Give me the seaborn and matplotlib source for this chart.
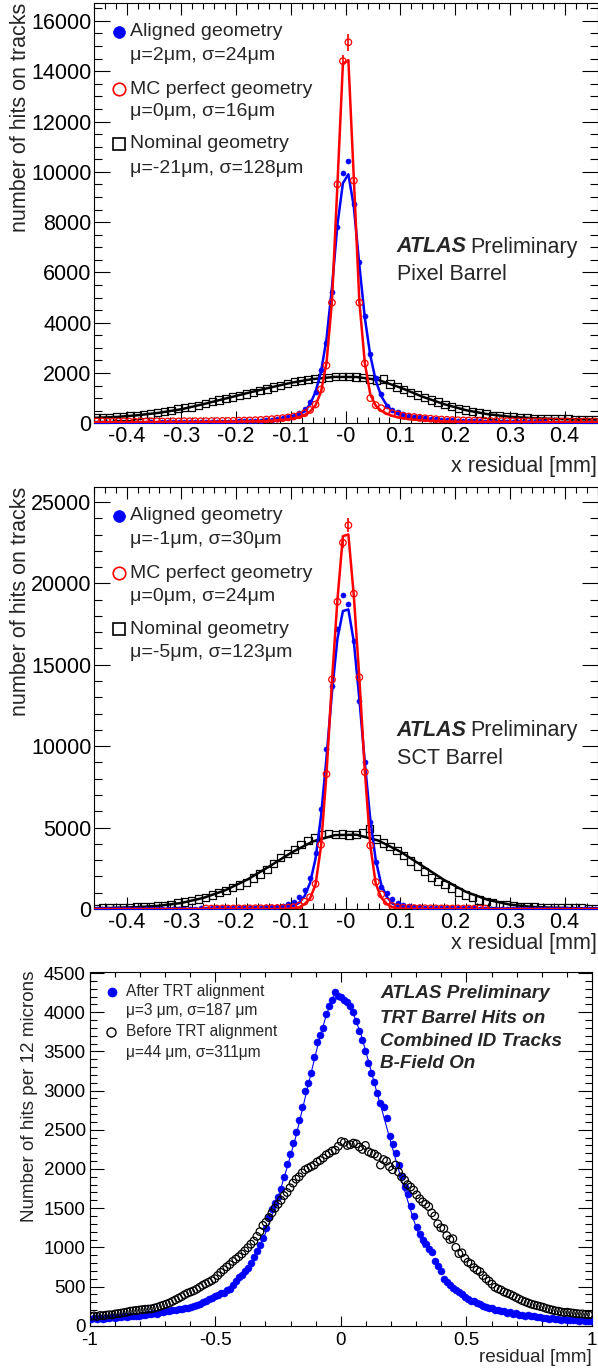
import numpy as np
import pandas as pd
import matplotlib
matplotlib.use("Agg")
import matplotlib.pyplot as plt
from matplotlib.lines import Line2D
from matplotlib.ticker import FixedLocator, FixedFormatter, MultipleLocator
import seaborn as sns

# ======================= DATA =======================
# ---- Pixel barrel (bins of 10 um for aligned / MC, 12.5 um for nominal) ----
pix_bin_x = np.round(np.arange(-0.455, 0.456, 0.01), 4)          # 92 bin centres
pix_nom_x = np.round(np.arange(-0.45625, 0.457, 0.0125), 5)      # 74 bin centres

pix_aligned = [30, 25, 30, 25, 30, 28, 30, 25, 30, 30,
               32, 30, 35, 32, 35, 38, 40, 38, 42, 45,
               48, 50, 55, 58, 62, 66, 72, 80, 88, 98,
               110, 125, 145, 170, 200, 240, 300, 420, 560, 860,
               1240, 2110, 3200, 5240, 7810, 9970, 10430, 8710, 6430, 4280,
               2770, 1810, 1150, 700, 540, 440, 370, 310, 270, 240,
               210, 185, 165, 145, 130, 118, 105, 95, 88, 80,
               72, 66, 60, 55, 52, 48, 45, 42, 40, 38,
               36, 34, 32, 30, 30, 28, 28, 26, 26, 25,
               25, 24]
pix_mc = [70, 75, 65, 70, 70, 75, 70, 65, 75, 70,
          75, 80, 75, 70, 80, 75, 85, 80, 85, 80,
          85, 90, 90, 95, 95, 100, 105, 110, 115, 125,
          135, 150, 165, 185, 205, 235, 270, 320, 400, 530,
          750, 1350, 2300, 4800, 9500, 14400, 15150, 9650, 4800, 2380,
          1000, 720, 600, 480, 400, 350, 300, 270, 250, 220,
          200, 185, 165, 150, 140, 130, 120, 115, 110, 105,
          100, 95, 90, 90, 85, 85, 80, 80, 75, 75,
          75, 70, 75, 70, 70, 65, 70, 65, 65, 70,
          65, 70]
pix_nominal = [220, 235, 240, 260, 265, 295, 315, 350, 375, 425,
               460, 520, 580, 620, 650, 720, 790, 860, 920, 990,
               1040, 1100, 1160, 1230, 1300, 1370, 1440, 1510, 1590, 1650,
               1700, 1740, 1770, 1800, 1830, 1850, 1860, 1870, 1840, 1810,
               1760, 1700, 1760, 1560, 1450, 1340, 1220, 1120, 1020, 930,
               840, 760, 680, 600, 530, 470, 410, 370, 320, 290,
               270, 250, 230, 215, 200, 190, 180, 175, 170, 165,
               160, 158, 155, 150]
pix_err_x = [-0.005, 0.005]
pix_err_y = [14400, 15150]
pix_err = [230, 330]

# fitted curves
fit_x = [-0.46, -0.4, -0.3, -0.25, -0.2, -0.17, -0.15, -0.13, -0.115, -0.105,
         -0.095, -0.085, -0.075, -0.065, -0.055, -0.045, -0.035, -0.025, -0.015, -0.005,
         0.005, 0.015, 0.025, 0.035, 0.045, 0.055, 0.065, 0.075, 0.085, 0.095,
         0.105, 0.115, 0.13, 0.15, 0.17, 0.2, 0.25, 0.3, 0.4, 0.46]
pix_fit_aligned = [20, 25, 35, 45, 60, 75, 90, 120, 150, 185,
                   240, 330, 480, 760, 1250, 2050, 3350, 5400, 7900, 9550,
                   9900, 8600, 6300, 4200, 2700, 1700, 1080, 720, 500, 370,
                   290, 235, 180, 135, 105, 80, 55, 40, 28, 22]
pix_fit_mc = [40, 45, 50, 55, 65, 75, 85, 110, 135, 160,
              195, 250, 330, 470, 720, 1250, 2400, 4850, 9500, 14300,
              14440, 9700, 4850, 2400, 1150, 700, 500, 380, 300, 240,
              200, 170, 135, 105, 85, 65, 55, 50, 45, 42]
nom_fit_x = [-0.46, -0.42, -0.38, -0.34, -0.30, -0.26, -0.22, -0.18, -0.14, -0.10, -0.06, -0.02,
             0.02, 0.06, 0.10, 0.14, 0.18, 0.22, 0.26, 0.30, 0.34, 0.38, 0.42, 0.46]
pix_fit_nominal = [215, 250, 320, 420, 560, 760, 980, 1200, 1410, 1610, 1760, 1845,
                   1840, 1720, 1420, 1060, 760, 520, 360, 260, 205, 175, 160, 150]

# ---- SCT barrel ----
sct_mc_x = np.round(np.arange(-0.255, 0.256, 0.01), 4)           # 52 bin centres
sct_aligned = [20, 15, 20, 15, 20, 18, 20, 15, 20, 22,
               20, 22, 25, 22, 25, 28, 25, 30, 28, 32,
               30, 35, 38, 40, 42, 48, 52, 58, 65, 75,
               85, 100, 120, 150, 200, 280, 400, 760, 1170, 1930,
               3470, 6140, 9830, 13680, 17170, 19260, 18710, 16490, 12760, 9000,
               5370, 2910, 1340, 990, 620, 380, 260, 190, 140, 110,
               90, 75, 65, 55, 50, 45, 40, 38, 35, 32,
               30, 28, 26, 25, 24, 22, 22, 20, 20, 20,
               18, 18, 17, 17, 16, 16, 15, 15, 15, 15,
               15, 15]
sct_mc = [30, 25, 30, 35, 30, 35, 40, 35, 40, 45,
          45, 50, 55, 60, 70, 85, 110, 200, 450, 720,
          1540, 3940, 8290, 14090, 18870, 22500, 23570, 19370, 14230, 8410,
          3900, 1660, 900, 450, 180, 100, 75, 60, 55, 50,
          45, 40, 40, 35, 35, 30, 35, 30, 30, 25,
          30, 25]
sct_nominal = [40, 55, 65, 80, 95, 105, 115, 140, 165, 195,
               230, 290, 370, 440, 540, 620, 720, 860, 1000, 1150,
               1320, 1480, 1640, 1900, 2150, 2420, 2800, 3150, 3400, 3650,
               3950, 4200, 4400, 4580, 4620, 4570, 4600, 4550, 4580, 4700,
               4930, 4300, 4050, 3850, 3600, 3300, 2950, 2650, 2300, 1950,
               1700, 1500, 1280, 1050, 850, 690, 560, 450, 360, 290,
               240, 200, 170, 140, 120, 105, 95, 85, 75, 65,
               60, 55, 50, 45]
sct_err_x = [-0.005, 0.005]
sct_err_y = [22500, 23570]
sct_err = [300, 420]
sct_fit_aligned = [0, 0, 0, 0, 2, 5, 10, 25, 55, 100,
                   190, 380, 800, 1600, 3100, 5700, 9300, 13300, 16600, 18300,
                   18400, 16400, 12900, 9000, 5500, 3000, 1500, 750, 350, 170,
                   90, 45, 20, 8, 4, 2, 0, 0, 0, 0]
sct_fit_mc = [0, 0, 0, 0, 0, 0, 0, 2, 5, 12,
              35, 100, 300, 650, 1500, 3850, 8300, 14000, 19000, 22900,
              23000, 19200, 14200, 8500, 3900, 1550, 700, 320, 120, 40,
              12, 5, 2, 0, 0, 0, 0, 0, 0, 0]
sct_fit_nominal = [40, 70, 115, 200, 370, 680, 1150, 1800, 2600, 3450, 4150, 4540,
                   4560, 4200, 3520, 2650, 1780, 1050, 560, 270, 130, 75, 50, 40]

# ---- TRT barrel (12 micron bins) ----
trt_x = np.round(np.arange(-0.994, 1.0, 0.012), 4)               # 167 bin centres
trt_after = [86, 95, 82, 98, 90, 104, 96, 110, 100, 106,
             111, 118, 112, 124, 120, 130, 126, 138, 134, 145,
             148, 158, 155, 172, 170, 186, 182, 198, 196, 212,
             210, 226, 224, 240, 248, 268, 276, 305, 312, 340,
             348, 380, 390, 415, 420, 450, 465, 525, 570, 620,
             645, 695, 735, 795, 875, 955, 1025, 1125, 1245, 1385,
             1495, 1565, 1645, 1745, 1895, 2065, 2195, 2335, 2475, 2625,
             2795, 2995, 3095, 3225, 3425, 3625, 3715, 3805, 3975, 4085,
             4155, 4255, 4205, 4195, 4155, 4125, 4085, 4005, 3885, 3765,
             3645, 3505, 3355, 3225, 3105, 2965, 2845, 2785, 2655, 2425,
             2325, 2205, 2055, 1905, 1775, 1685, 1525, 1405, 1255, 1175,
             1095, 1045, 985, 945, 825, 765, 695, 595, 555, 520,
             475, 460, 425, 400, 360, 345, 315, 310, 285, 275,
             250, 245, 220, 220, 200, 200, 184, 186, 168, 170,
             154, 156, 140, 142, 128, 131, 118, 120, 106, 110,
             98, 102, 90, 94, 83, 88, 77, 82, 72, 76,
             68, 72, 64, 69, 62, 66, 60]
trt_before = [120, 125, 118, 130, 128, 135, 140, 138, 150, 155,
              160, 168, 175, 185, 190, 195, 200, 205, 210, 212,
              215, 225, 235, 250, 262, 275, 290, 310, 330, 350,
              370, 395, 415, 430, 445, 465, 490, 515, 535, 555,
              575, 600, 640, 680, 715, 750, 780, 820, 850, 880,
              915, 955, 995, 1040, 1080, 1140, 1200, 1280, 1320, 1380,
              1440, 1500, 1550, 1600, 1660, 1700, 1760, 1820, 1870, 1900,
              1950, 1990, 2010, 2030, 2050, 2090, 2110, 2140, 2180, 2200,
              2230, 2240, 2290, 2350, 2340, 2300, 2310, 2330, 2320, 2280,
              2250, 2300, 2220, 2200, 2190, 2160, 2050, 2120, 2100, 2030,
              1990, 2050, 1960, 1900, 1860, 1800, 1770, 1730, 1670, 1620,
              1580, 1550, 1520, 1440, 1400, 1300, 1250, 1240, 1150, 1100,
              1110, 1000, 920, 930, 860, 810, 790, 740, 710, 690,
              640, 600, 570, 530, 490, 470, 455, 430, 415, 400,
              380, 360, 340, 320, 305, 290, 275, 265, 255, 245,
              235, 220, 210, 200, 190, 185, 175, 170, 172, 165,
              160, 155, 150, 150, 145, 140, 142]
trt_fit_x = [-0.33, -0.30, -0.27, -0.24, -0.21, -0.18, -0.15, -0.12, -0.09, -0.06, -0.04, -0.02,
             0.0, 0.02, 0.05, 0.08, 0.11, 0.14, 0.17, 0.20, 0.23, 0.26, 0.29, 0.32, 0.33]
trt_fit_y = [960, 1180, 1450, 1740, 2060, 2400, 2800, 3200, 3600, 3940, 4120, 4280,
             4180, 4130, 3980, 3720, 3380, 3020, 2680, 2330, 1990, 1660, 1350, 1080, 1000]

# tick labels
hist_xticks = [-0.4, -0.3, -0.2, -0.1, 0.0, 0.1, 0.2, 0.3, 0.4]
hist_xticklabels = ["-0.4", "-0.3", "-0.2", "-0.1", "-0", "0.1", "0.2", "0.3", "0.4"]
pix_yticks = [0, 2000, 4000, 6000, 8000, 10000, 12000, 14000, 16000]
sct_yticks = [0, 5000, 10000, 15000, 20000, 25000]
trt_xticks = [-1, -0.5, 0, 0.5, 1]
trt_xticklabels = ["-1", "-0.5", "0", "0.5", "1"]
trt_yticks = [0, 500, 1000, 1500, 2000, 2500, 3000, 3500, 4000, 4500]

# ======================= STYLE =======================
sns.set_style("ticks")
plt.rcParams['font.family'] = ['Liberation Sans', 'DejaVu Sans']
plt.rcParams['axes.linewidth'] = 0.8

W, H = 598, 1370
fig = plt.figure(figsize=(W / 100, H / 100), dpi=100)
fig.patch.set_facecolor('white')

BLUE = (0, 0, 1)
RED = (1, 0, 0)
BLACK = (0, 0, 0)


def fx(px):
    return px / W


def fy(py):
    return 1 - py / H


def add_axes(left, top, right, bottom):
    return fig.add_axes([fx(left), fy(bottom), (right - left) / W, (bottom - top) / H])


def open_scatter(ax, x, y, marker, s, color, lw, z):
    sns.scatterplot(x=x, y=y, ax=ax, marker=marker, s=s, color=color,
                    edgecolor=color, linewidth=lw, legend=False, zorder=z)
    ax.collections[-1].set_facecolor('none')


def filled_scatter(ax, x, y, s, color, z):
    sns.scatterplot(x=x, y=y, ax=ax, marker='o', s=s, color=color,
                    edgecolor=color, linewidth=0.3, legend=False, zorder=z)


def curve(ax, x, y, color, lw, z):
    sns.lineplot(x=x, y=y, ax=ax, color=color, linewidth=lw, estimator=None,
                 sort=False, legend=False, zorder=z)


def style_axes(ax, xlim, ylim, xticks, xlabels, yticks, xminor, yminor,
               fs, xmaj, xmin, ymaj, ymin, xpad, ypad):
    ax.set_xlim(*xlim)
    ax.set_ylim(*ylim)
    ax.xaxis.set_major_locator(FixedLocator(xticks))
    ax.xaxis.set_major_formatter(FixedFormatter(xlabels))
    ax.yaxis.set_major_locator(FixedLocator(yticks))
    ax.yaxis.set_major_formatter(FixedFormatter([str(v) for v in yticks]))
    ax.xaxis.set_minor_locator(MultipleLocator(xminor))
    ax.yaxis.set_minor_locator(MultipleLocator(yminor))
    ax.tick_params(axis='both', which='both', direction='in', top=True, right=True,
                   colors='black', width=0.8, labelsize=fs)
    ax.tick_params(axis='x', which='major', length=xmaj, pad=xpad)
    ax.tick_params(axis='x', which='minor', length=xmin)
    ax.tick_params(axis='y', which='major', length=ymaj, pad=ypad)
    ax.tick_params(axis='y', which='minor', length=ymin)
    for sp in ax.spines.values():
        sp.set_visible(True)
        sp.set_color('black')
        sp.set_linewidth(0.8)
    ax.set_xlabel('')
    ax.set_ylabel('')
    ax.set_facecolor('white')


def legend_marker(px, py, marker, ms, color, filled, mew=1.2):
    ln = Line2D([fx(px)], [fy(py)], marker=marker, markersize=ms, linestyle='none',
                markerfacecolor=color if filled else 'none', markeredgecolor=color,
                markeredgewidth=mew, transform=fig.transFigure)
    fig.add_artist(ln)


def ftext(px, py, s, fs, **kw):
    fig.text(fx(px), fy(py), s, fontsize=fs, va='center', ha=kw.pop('ha', 'left'), **kw)


def hist_panel(top, bottom, ymax, yticks, yminor, aligned, mc, nominal, mc_x,
               fit_al, fit_mc, fit_nom, err_x, err_y, err):
    ax = add_axes(93.8, top, 597.5, bottom)
    # nominal geometry (open squares + black fit)
    open_scatter(ax, pix_nom_x, nominal, 's', 28, BLACK, 0.9, 3)
    curve(ax, nom_fit_x, fit_nom, BLACK, 1.8, 4)
    # aligned geometry (filled blue circles + blue fit)
    filled_scatter(ax, pix_bin_x, aligned, 14, BLUE, 5)
    curve(ax, fit_x, fit_al, BLUE, 1.8, 6)
    # MC perfect (open red circles + red fit)
    open_scatter(ax, mc_x, mc, 'o', 22, RED, 0.9, 7)
    ax.errorbar(err_x, err_y, yerr=err, fmt='none', ecolor=RED, elinewidth=1.2, zorder=7)
    curve(ax, fit_x, fit_mc, RED, 1.8, 8)
    style_axes(ax, (-0.46, 0.46), (0, ymax), hist_xticks, hist_xticklabels, yticks,
               0.02, yminor, 15.5, 8.6, 4.3, 11.5, 5.8, 2.0, 1.7)
    return ax


# ======================= PANEL 1: Pixel =======================
hist_panel(3.3, 423.3, 16700, pix_yticks, 500, pix_aligned, pix_mc, pix_nominal, pix_bin_x,
           pix_fit_aligned, pix_fit_mc, pix_fit_nominal, pix_err_x, pix_err_y, pix_err)
legend_marker(119, 31.7, 'o', 8.5, BLUE, True, 0.5)
ftext(130, 31.7, "Aligned geometry", 14)
ftext(130, 55.0, "\u03bc=2\u03bcm, \u03c3=24\u03bcm", 14)
legend_marker(119, 89.3, 'o', 9, RED, False)
ftext(130, 89.3, "MC perfect geometry", 14)
ftext(130, 111.7, "\u03bc=0\u03bcm, \u03c3=16\u03bcm", 14)
legend_marker(119, 144, 's', 8.5, BLACK, False)
ftext(130, 144, "Nominal geometry", 14)
ftext(130, 168.3, "\u03bc=-21\u03bcm, \u03c3=128\u03bcm", 14)
ftext(396.6, 247, "ATLAS", 15.5, fontweight='bold', fontstyle='italic')
ftext(470, 247, "Preliminary", 15.5)
ftext(396.6, 274.7, "Pixel Barrel", 15.5)
fig.text(fx(597), fy(466), "x residual [mm]", fontsize=15.5, ha='right', va='center')
fig.text(fx(21), fy(3), "number of hits on tracks", fontsize=15.5, rotation=90,
         ha='center', va='top')

# ======================= PANEL 2: SCT =======================
hist_panel(487.3, 909, 25900, sct_yticks, 1000, sct_aligned, sct_mc, sct_nominal, sct_mc_x,
           sct_fit_aligned, sct_fit_mc, sct_fit_nominal, sct_err_x, sct_err_y, sct_err)
legend_marker(119, 516, 'o', 8.5, BLUE, True, 0.5)
ftext(130, 516, "Aligned geometry", 14)
ftext(130, 540, "\u03bc=-1\u03bcm, \u03c3=30\u03bcm", 14)
legend_marker(119, 573.3, 'o', 9, RED, False)
ftext(130, 573.3, "MC perfect geometry", 14)
ftext(130, 596, "\u03bc=0\u03bcm, \u03c3=24\u03bcm", 14)
legend_marker(119, 629, 's', 8.5, BLACK, False)
ftext(130, 629, "Nominal geometry", 14)
ftext(130, 652.7, "\u03bc=-5\u03bcm, \u03c3=123\u03bcm", 14)
ftext(396.6, 730.7, "ATLAS", 15.5, fontweight='bold', fontstyle='italic')
ftext(470, 730.7, "Preliminary", 15.5)
ftext(396.6, 758.3, "SCT Barrel", 15.5)
fig.text(fx(597), fy(944), "x residual [mm]", fontsize=15.5, ha='right', va='center')
fig.text(fx(21), fy(487), "number of hits on tracks", fontsize=15.5, rotation=90,
         ha='center', va='top')

# ======================= PANEL 3: TRT =======================
ax3 = add_axes(89.6, 972.3, 592, 1325.7)
filled_scatter(ax3, trt_x, trt_after, 26, BLUE, 3)
curve(ax3, trt_fit_x, trt_fit_y, BLUE, 0.8, 4)
open_scatter(ax3, trt_x, trt_before, 'o', 30, BLACK, 0.9, 5)
style_axes(ax3, (-1, 1), (0, 4510), trt_xticks, trt_xticklabels, trt_yticks,
           0.1, 100, 13.6, 7.2, 3.6, 10.4, 5.0, 4.2, 2.7)
legend_marker(111.7, 991.7, 'o', 6.5, BLUE, True, 0.5)
ftext(125.9, 991.7, "After TRT alignment", 11.2)
ftext(125.9, 1010.7, "\u03bc=3 \u03bcm, \u03c3=187 \u03bcm", 11.2)
legend_marker(111, 1031.7, 'o', 6.5, BLACK, False, 1.0)
ftext(125.9, 1031.7, "Before TRT alignment", 11.2)
ftext(125.9, 1052.7, "\u03bc=44 \u03bcm, \u03c3=311\u03bcm", 11.2)
for txt, yy in [("ATLAS Preliminary", 993.3), ("TRT Barrel Hits on", 1018.3),
                ("Combined ID Tracks", 1041.7), ("B-Field On", 1063.3)]:
    ftext(380, yy, txt, 13.6, fontweight='bold', fontstyle='italic')
fig.text(fx(592), fy(1358), "residual [mm]", fontsize=13.6, ha='right', va='center')
fig.text(fx(30), fy(970), "Number of hits per 12 microns", fontsize=13.6, rotation=90,
         ha='center', va='top')

fig.savefig("out.png", dpi=100, facecolor='white')
